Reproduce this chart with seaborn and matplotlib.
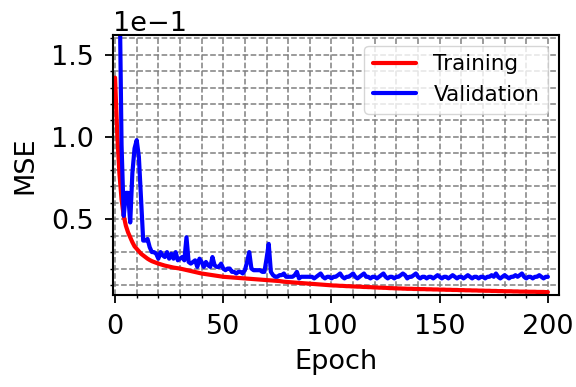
import matplotlib
matplotlib.use("Agg")
import matplotlib.pyplot as plt
import seaborn as sns
import pandas as pd
from matplotlib.ticker import MultipleLocator

# epochs 0..200
epochs = list(range(0, 201))

training = [
    0.136, 0.102, 0.078, 0.062, 0.052, 0.046, 0.042, 0.039, 0.036, 0.0335,
    0.032, 0.0305, 0.029, 0.028, 0.027, 0.026, 0.0252, 0.0245, 0.024, 0.0235,
    0.023, 0.0226, 0.0222, 0.0218, 0.0215, 0.0212, 0.0209, 0.0206, 0.0204, 0.0202,
    0.0200, 0.0197, 0.0194, 0.0191, 0.0188, 0.0185, 0.0182, 0.0179, 0.0176, 0.0173,
    0.0170, 0.0168, 0.0166, 0.0164, 0.0162, 0.0160, 0.0158, 0.0156, 0.0154, 0.0152,
    0.0150, 0.0149, 0.0148, 0.0147, 0.0146, 0.0145, 0.0144, 0.0143, 0.0142, 0.0141,
    0.0140, 0.0139, 0.0138, 0.0137, 0.0136, 0.0135, 0.0134, 0.0133, 0.0132, 0.0131,
    0.0130, 0.0129, 0.0128, 0.0127, 0.0126, 0.0125, 0.0124, 0.0122, 0.0120, 0.0119,
    0.0118, 0.0117, 0.0116, 0.0115, 0.0114, 0.0113, 0.0112, 0.0111, 0.0110, 0.0109,
    0.0108, 0.0107, 0.0106, 0.0105, 0.0104, 0.0103, 0.0102, 0.0101, 0.0100, 0.0099,
    0.0098, 0.0097, 0.0097, 0.0096, 0.0095, 0.0095, 0.0094, 0.0093, 0.0093, 0.0092,
    0.0091, 0.0091, 0.0090, 0.0090, 0.0089, 0.0088, 0.0088, 0.0087, 0.0087, 0.0086,
    0.0085, 0.0085, 0.0084, 0.0084, 0.0083, 0.0083, 0.0082, 0.0081, 0.0081, 0.0080,
    0.0080, 0.0079, 0.0079, 0.0078, 0.0078, 0.0077, 0.0077, 0.0077, 0.0076, 0.0076,
    0.0076, 0.0075, 0.0075, 0.0075, 0.0074, 0.0074, 0.0074, 0.0073, 0.0073, 0.0073,
    0.0072, 0.0072, 0.0072, 0.0071, 0.0071, 0.0071, 0.0070, 0.0070, 0.0070, 0.0069,
    0.0069, 0.0069, 0.0068, 0.0068, 0.0068, 0.0067, 0.0067, 0.0067, 0.0066, 0.0066,
    0.0066, 0.0065, 0.0065, 0.0065, 0.0064, 0.0064, 0.0064, 0.0063, 0.0063, 0.0063,
    0.0062, 0.0062, 0.0062, 0.0062, 0.0061, 0.0061, 0.0061, 0.0060, 0.0060, 0.0060,
    0.0060, 0.0059, 0.0059, 0.0059, 0.0059, 0.0058, 0.0058, 0.0058, 0.0058, 0.0057,
    0.0057,
]

validation = [
    0.350, 0.260, 0.200, 0.095, 0.052, 0.066, 0.066, 0.048, 0.078, 0.093,
    0.098, 0.088, 0.062, 0.037, 0.037, 0.038, 0.033, 0.030, 0.030, 0.029,
    0.026, 0.030, 0.028, 0.027, 0.030, 0.026, 0.029, 0.026, 0.030, 0.025,
    0.026, 0.027, 0.025, 0.039, 0.024, 0.023, 0.024, 0.025, 0.021, 0.026,
    0.024, 0.021, 0.024, 0.022, 0.021, 0.027, 0.022, 0.021, 0.021, 0.023,
    0.020, 0.019, 0.020, 0.020, 0.018, 0.018, 0.017, 0.018, 0.018, 0.017,
    0.019, 0.024, 0.030, 0.020, 0.019, 0.019, 0.019, 0.019, 0.018, 0.018,
    0.026, 0.035, 0.018, 0.016, 0.015, 0.015, 0.016, 0.016, 0.017, 0.015,
    0.015, 0.015, 0.015, 0.016, 0.018, 0.014, 0.015, 0.015, 0.015, 0.015,
    0.015, 0.015, 0.014, 0.015, 0.016, 0.017, 0.015, 0.014, 0.015, 0.015,
    0.014, 0.015, 0.015, 0.016, 0.017, 0.015, 0.014, 0.015, 0.015, 0.016,
    0.017, 0.015, 0.014, 0.015, 0.016, 0.017, 0.015, 0.015, 0.014, 0.015,
    0.015, 0.014, 0.015, 0.016, 0.017, 0.015, 0.014, 0.015, 0.015, 0.014,
    0.015, 0.015, 0.016, 0.017, 0.016, 0.014, 0.015, 0.015, 0.016, 0.017,
    0.015, 0.014, 0.015, 0.015, 0.014, 0.015, 0.015, 0.014, 0.015, 0.016,
    0.015, 0.014, 0.015, 0.015, 0.014, 0.015, 0.016, 0.015, 0.014, 0.015,
    0.015, 0.014, 0.015, 0.016, 0.015, 0.014, 0.015, 0.015, 0.014, 0.015,
    0.015, 0.014, 0.015, 0.015, 0.016, 0.015, 0.017, 0.015, 0.014, 0.015,
    0.016, 0.015, 0.014, 0.015, 0.015, 0.016, 0.015, 0.016, 0.017, 0.015,
    0.014, 0.015, 0.015, 0.014, 0.015, 0.015, 0.016, 0.015, 0.014, 0.015,
    0.015,
]

sns.set_style("ticks")
plt.rcParams['font.family'] = ['DejaVu Sans']
plt.rcParams['font.size'] = 19
plt.rcParams['text.color'] = 'black'
plt.rcParams['axes.labelcolor'] = 'black'
plt.rcParams['xtick.color'] = 'black'
plt.rcParams['ytick.color'] = 'black'

df = pd.DataFrame({"Epoch": epochs, "Training": training, "Validation": validation})

fig = plt.figure(figsize=(5.76, 3.87), dpi=100)
ax = fig.add_axes([0.196, 0.238, 0.774, 0.672])

sns.lineplot(data=df, x="Epoch", y="Training", color="red", lw=3, label="Training", ax=ax)
sns.lineplot(data=df, x="Epoch", y="Validation", color="blue", lw=3, label="Validation", ax=ax)

ax.set_xlim(-1, 205)
ax.set_ylim(0.004, 0.162)
ax.xaxis.set_major_locator(MultipleLocator(50))
ax.xaxis.set_minor_locator(MultipleLocator(10))
ax.yaxis.set_major_locator(MultipleLocator(0.05))
ax.yaxis.set_minor_locator(MultipleLocator(0.01))
ax.ticklabel_format(axis='y', style='sci', scilimits=(0, 0))
ax.yaxis.get_offset_text().set_fontsize(19.5)

ax.grid(True, which='both', linestyle='--', color='gray', lw=1.1)
ax.tick_params(which='major', direction='out', length=6, width=1.3, labelsize=19.5, pad=7.5)
ax.tick_params(which='minor', direction='out', length=2.5, width=1.0)
for s in ax.spines.values():
    s.set_visible(True)
    s.set_linewidth(1.5)
    s.set_color('black')

ax.set_xlabel("Epoch", fontsize=19.5, labelpad=7)
ax.set_ylabel("MSE", fontsize=19.5, labelpad=9)
ax.legend(loc='upper right', fontsize=15.5)

fig.savefig("out.png", dpi=100)
